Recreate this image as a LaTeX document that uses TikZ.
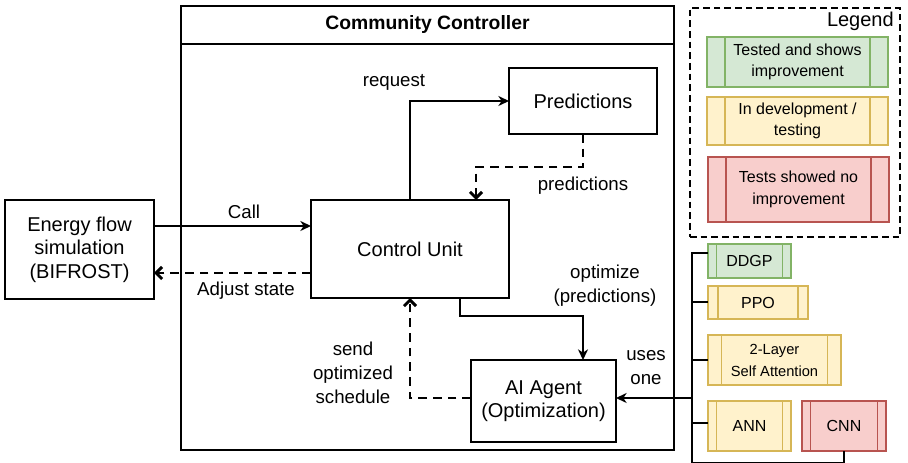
\documentclass[tikz,border=0pt]{standalone}
\usepackage{fontspec}
\setmainfont{Liberation Sans}
\usetikzlibrary{arrows.meta,calc}

\definecolor{okfill}{HTML}{D5E8D4}
\definecolor{okline}{HTML}{82B366}
\definecolor{devfill}{HTML}{FFF2CC}
\definecolor{devline}{HTML}{D6B656}
\definecolor{failfill}{HTML}{F8CECC}
\definecolor{failline}{HTML}{B85450}

% box from its corners in pixel units: name, x1, y1, x2, y2, style, text
\newcommand\pxbox[7]{%
  \pgfmathsetmacro\pxw{(#4-#2)*0.75}%
  \pgfmathsetmacro\pxh{(#5-#3)*0.75}%
  \node[#6, minimum width=\pxw pt, minimum height=\pxh pt, inner sep=0pt, outer sep=0pt]
    (#1) at ({(#2+#4)/2},{(#3+#5)/2}) {#7};}
% process box: same, with the two inner side bars
\newcommand\procbox[7]{%
  \pxbox{#1}{#2}{#3}{#4}{#5}{#6}{#7}%
  \pgfmathsetmacro\procd{0.1*(#4-#2)}%
  \draw[#6, fill=none] (#2+\procd,#3) -- (#2+\procd,#5) (#4-\procd,#3) -- (#4-\procd,#5);}

\tikzset{
  x=0.75pt, y=-0.75pt,
  box/.style={draw, line width=1.5pt, font=\fontsize{15}{17.5}\selectfont, align=center},
  lbl/.style={font=\fontsize{14}{18}\selectfont, align=center, inner sep=0pt},
  titletext/.style={font=\bfseries\fontsize{14.5}{17}\selectfont, inner sep=0pt},
  legendframe/.style={draw, line width=1.1pt, dash pattern=on 5pt off 3pt},
  okbox/.style={draw=okline, fill=okfill, line width=1.1pt, font=\fontsize{12}{16}\selectfont, align=center},
  devbox/.style={draw=devline, fill=devfill, line width=1.1pt, font=\fontsize{12}{16}\selectfont, align=center},
  failbox/.style={draw=failline, fill=failfill, line width=1.1pt, font=\fontsize{12}{16}\selectfont, align=center},
  smalltext/.style={font=\fontsize{11}{16.5}\selectfont},
  arr/.style={line width=1.5pt, -{Stealth[length=8pt, width=7.5pt, inset=2.5pt]}},
  darr/.style={line width=2.2pt, dash pattern=on 6.5pt off 4.5pt,
    -{Straight Barb[length=4.5pt, width=9pt, line width=2.2pt]}},
  tree/.style={line width=1.5pt},
}

\begin{document}
\begin{tikzpicture}
\useasboundingbox (0,0) rectangle (908,463);

% controller container with its title band
\pxbox{cc}{181}{6}{674}{450}{box}{}
\draw[line width=1.5pt] ($(cc.north west)+(0,38)$) -- ($(cc.north east)+(0,38)$);
\node[titletext] (cctitle) at ($(cc.north)+(0,19)$) {Community Controller};

% main blocks
\pxbox{energy}{5}{200}{154}{299}{box}{Energy flow\\simulation\\(BIFROST)}
\pxbox{cu}{311}{200}{509}{298}{box}{Control Unit}
\pxbox{pred}{509}{68}{657}{134}{box}{Predictions}
\pxbox{ai}{471}{360}{616}{442}{box}{AI Agent\\(Optimization)}

% legend
\pxbox{legend}{690}{8}{900}{237}{legendframe}{}
\node[anchor=east, font=\fontsize{15}{17}\selectfont, inner sep=0pt] (legendtitle) at (894,21) {Legend};
\procbox{lgok}{707}{37}{888}{87}{okbox}{Tested and shows\\improvement}
\procbox{lgdev}{707}{97}{888}{145}{devbox}{In development /\\testing}
\procbox{lgfail}{708}{157}{889}{222}{failbox}{Tests showed no\\improvement}

% candidate models
\procbox{ddgp}{708}{244}{791}{278}{okbox}{DDGP}
\procbox{ppo}{708}{286}{808}{319}{devbox}{PPO}
\procbox{attn}{708}{335}{841}{385}{devbox, smalltext}{2-Layer\\Self Attention}
\procbox{ann}{708}{401}{791}{451}{devbox}{ANN}
\procbox{cnn}{802}{401}{886}{451}{failbox}{CNN}

% model tree
\coordinate (trunktop) at (692,253);
\coordinate (trunkbot) at (692,463);
\coordinate (usesfrom) at (692,398);
\draw[tree] (ddgp.west |- trunktop) -- (trunktop) -- (trunkbot);
\draw[tree] (ppo.west) -- (ppo.west -| trunktop);
\draw[tree] (attn.west) -- (attn.west -| trunktop);
\draw[tree] ($(ann.west)+(0,-3)$) -- ($(ann.west -| trunktop)+(0,-3)$);
\draw[tree] (cnn.south) -- ++(0,12) -| (trunkbot);

% connectors
\coordinate (cally) at (0,226);
\coordinate (adjy) at (0,273);
\draw[arr] (energy.east |- cally) -- (cu.west |- cally);
\draw[darr] (cu.west |- adjy) -- (energy.east |- adjy);
\draw[arr] (cu.north) |- (pred.west);
\draw[darr] (pred.south) -- ++(0,33) -| ($(cu.north)+(66,0)$);
\draw[arr] ($(cu.south)+(50,0)$) -- ++(0,18) -| ($(ai.north)+(39.5,0)$);
\draw[darr] (ai.west |- usesfrom) -| (cu.south);
\draw[arr] (usesfrom) -- (ai.east |- usesfrom);

% connector labels
\node[lbl] (callL) at (244,212) {Call};
\node[lbl] (adjL) at (246,291) {Adjust state};
\node[lbl] (reqL) at (394,82) {request};
\node[lbl] (predL) at (583,186) {predictions};
\node[lbl] (optL) at (605,286) {optimize\\(predictions)};
\node[lbl] (sendL) at (353,373) {send\\optimized\\schedule};
\node[lbl] (usesL) at (646,368) {uses\\one};
\end{tikzpicture}
\end{document}
